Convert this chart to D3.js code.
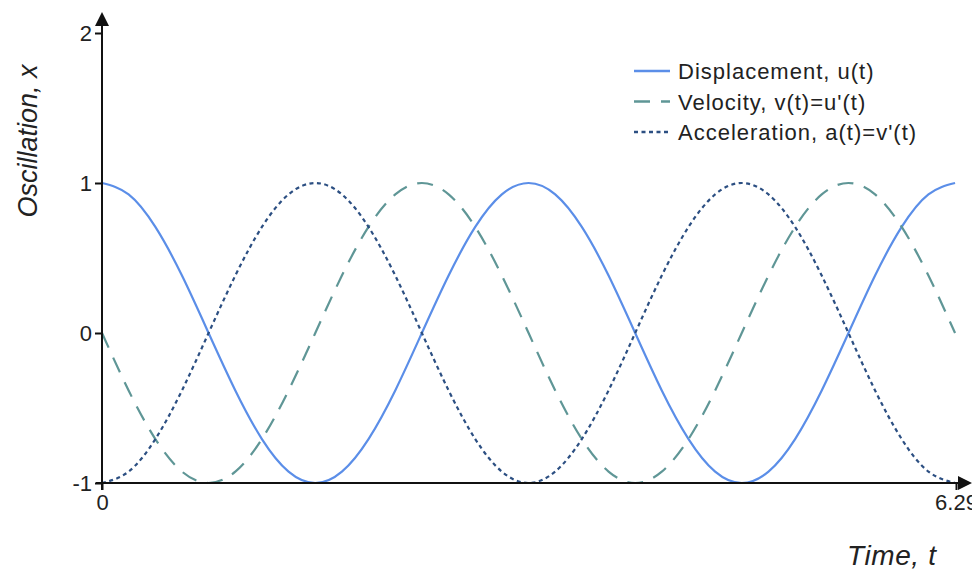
<!DOCTYPE html>
<html>
<head>
<meta charset="utf-8">
<script src="https://cdn.jsdelivr.net/npm/d3@7"></script>
<style>
  html, body { margin: 0; padding: 0; background: #fff; }
  svg { display: block; font-family: "Liberation Sans", Arial, sans-serif; }
</style>
</head>
<body>
<svg id="chart" width="972" height="571"></svg>
<script>
// Sample times over one full turn, 0 .. 2π
const tValues = [0, 0.196, 0.393, 0.589, 0.785, 0.982, 1.178, 1.374, 1.571, 1.767,
  1.963, 2.160, 2.356, 2.553, 2.749, 2.945, 3.142, 3.338, 3.534, 3.731, 3.927,
  4.123, 4.320, 4.516, 4.712, 4.909, 5.105, 5.301, 5.498, 5.694, 5.890, 6.087, 6.283];

const displacement = [1, 0.924, 0.707, 0.383, 0, -0.383, -0.707, -0.924, -1, -0.924,
  -0.707, -0.383, 0, 0.383, 0.707, 0.924, 1, 0.924, 0.707, 0.383, 0,
  -0.383, -0.707, -0.924, -1, -0.924, -0.707, -0.383, 0, 0.383, 0.707, 0.924, 1];

const velocity = [0, -0.383, -0.707, -0.924, -1, -0.924, -0.707, -0.383, 0, 0.383,
  0.707, 0.924, 1, 0.924, 0.707, 0.383, 0, -0.383, -0.707, -0.924, -1,
  -0.924, -0.707, -0.383, 0, 0.383, 0.707, 0.924, 1, 0.924, 0.707, 0.383, 0];

const acceleration = [-1, -0.924, -0.707, -0.383, 0, 0.383, 0.707, 0.924, 1, 0.924,
  0.707, 0.383, 0, -0.383, -0.707, -0.924, -1, -0.924, -0.707, -0.383, 0,
  0.383, 0.707, 0.924, 1, 0.924, 0.707, 0.383, 0, -0.383, -0.707, -0.924, -1];

const seriesNames = ["Displacement, u(t)", "Velocity, v(t)=u'(t)", "Acceleration, a(t)=v'(t)"];
const seriesColors = ["#5b8ee8", "#5f9696", "#2c4f82"];
const seriesDash = [null, "16,11", "4,3.5"];

const xTicks = [0, 6.29];
const xTickLabels = ["0", "6.29"];
const yTicks = [-1, 0, 1, 2];
const yTickLabels = ["-1", "0", "1", "2"];

const svg = d3.select("#chart");

const x = d3.scaleLinear().domain([0, 6.29]).range([102, 956]);
const y = d3.scaleLinear().domain([-1, 2]).range([483, 33]);

// Curves
const line = d3.line()
  .x(d => x(d[0]))
  .y(d => y(d[1]))
  .curve(d3.curveNatural);

const allSeries = [displacement, velocity, acceleration];
allSeries.forEach((vals, i) => {
  svg.append("path")
    .datum(tValues.map((t, k) => [t, vals[k]]))
    .attr("fill", "none")
    .attr("stroke", seriesColors[i])
    .attr("stroke-width", 2.2)
    .attr("stroke-dasharray", seriesDash[i])
    .attr("d", line);
});

// Axes with arrowheads
const axisG = svg.append("g").attr("stroke", "#111").attr("stroke-width", 2);
axisG.append("line").attr("x1", x(0)).attr("x2", x(0)).attr("y1", 490).attr("y2", 22);
axisG.append("line").attr("x1", 96).attr("x2", 962).attr("y1", y(-1)).attr("y2", y(-1));
svg.append("path")
  .attr("d", `M${x(0)},12 L${x(0) - 7},26 L${x(0) + 7},26 Z`)
  .attr("fill", "#111");
svg.append("path")
  .attr("d", `M972,${y(-1)} L958,${y(-1) - 7} L958,${y(-1) + 7} Z`)
  .attr("fill", "#111");

const yAxis = svg.append("g")
  .attr("transform", `translate(${x(0)},0)`)
  .call(d3.axisLeft(y).tickValues(yTicks).tickSize(7).tickPadding(3)
    .tickFormat((d, i) => yTickLabels[i]));
yAxis.select(".domain").remove();
yAxis.selectAll("line").attr("stroke", "#111").attr("stroke-width", 2);
yAxis.selectAll("text").attr("font-size", 22).attr("fill", "#222")
  .attr("font-family", "'Liberation Sans', Arial, sans-serif");

const xAxis = svg.append("g")
  .attr("transform", `translate(0,${y(-1)})`)
  .call(d3.axisBottom(x).tickValues(xTicks).tickSize(7).tickPadding(4)
    .tickFormat((d, i) => xTickLabels[i]));
xAxis.select(".domain").remove();
xAxis.selectAll("line").attr("stroke", "#111").attr("stroke-width", 2);
xAxis.selectAll("text").attr("font-size", 22).attr("fill", "#222")
  .attr("font-family", "'Liberation Sans', Arial, sans-serif");

// Axis titles
svg.append("text")
  .attr("transform", "translate(37,141) rotate(-90)")
  .attr("text-anchor", "middle")
  .attr("font-size", 27)
  .attr("font-style", "italic")
  .attr("fill", "#222")
  .text("Oscillation, x");

svg.append("text")
  .attr("x", 847)
  .attr("y", 565)
  .attr("font-size", 28)
  .attr("font-style", "italic")
  .attr("letter-spacing", 0.6)
  .attr("fill", "#222")
  .text("Time, t");

// Legend
const legend = svg.append("g");
seriesNames.forEach((name, i) => {
  const ly = 71 + i * 30.5;
  legend.append("line")
    .attr("x1", 634).attr("x2", 670)
    .attr("y1", ly).attr("y2", ly)
    .attr("stroke", seriesColors[i])
    .attr("stroke-width", 2.4)
    .attr("stroke-dasharray", seriesDash[i]);
  legend.append("text")
    .attr("x", 678)
    .attr("y", ly + 8)
    .attr("font-size", 22)
    .attr("letter-spacing", 1)
    .attr("fill", "#222")
    .text(name);
});
</script>
</body>
</html>
